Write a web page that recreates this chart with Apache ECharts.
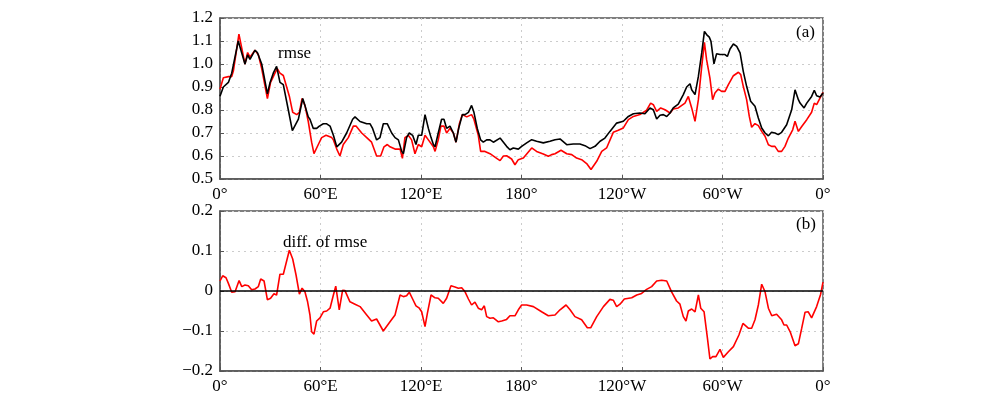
<!DOCTYPE html>
<html><head><meta charset="utf-8">
<script src="https://cdn.jsdelivr.net/npm/echarts@6/dist/echarts.min.js"></script>
<style>html,body{margin:0;padding:0;background:#fff}#c{width:1000px;height:397px}</style>
</head><body><div id="c"></div>
<script>
// Panel (a): black rmse line (longitude east 0-360, value)
const blackLon = [0,2,5,7,10.9,14.9,16.5,17.9,20.9,22.3,24.9,28.3,29.9,31.8,33.8,35.8,37.8,40.8,43.2,46.8,49.4,50.7,52.7,53.7,55.7,57.7,59.3,61.7,63.7,65.7,67.7,69.7,72.6,75.6,79.2,80.6,83.6,87.6,89.6,91.1,93.5,95.5,97.5,99.9,102.5,104.5,106.5,108.5,109.5,111.4,113.0,115.0,117.0,118.4,120.4,122.4,124.4,126.0,127.4,128.4,130.3,132.3,133.7,135.3,137.3,139.3,140.9,142.5,144.7,146.3,148.3,150.2,151.6,153.6,155.6,157.2,159.2,161.2,163.2,167.2,171.1,173.1,175.1,178.1,180.1,183.1,186.1,189.0,193.0,197.0,200.0,203.0,207.0,210.9,214.9,217.9,220.9,223.9,226.9,229.8,232.8,236.8,240.8,243.8,246.8,250.7,253.7,256.7,258.7,260.7,262.7,264.7,266.7,268.7,270.6,273.6,276.6,278.6,280.6,281.6,283.6,285.6,287.6,289.2,290.5,292.1,293.1,294.9,296.5,298.5,299.5,301.5,302.9,304.5,306.5,308.5,310.5,312.4,314.4,316.8,319.4,321.4,323.4,325.4,327.4,329.3,331.3,333.3,335.3,338.3,341.3,343.3,345.3,346.3,348.7,350.3,353.2,354.8,356.2,358.2,360];
const blackVal = [0.86,0.9,0.92,0.96,1.10,1.0,1.04,1.02,1.06,1.05,1.0,0.87,0.92,0.96,0.99,0.92,0.91,0.8,0.71,0.76,0.85,0.82,0.77,0.76,0.72,0.72,0.73,0.74,0.74,0.73,0.69,0.64,0.66,0.70,0.76,0.77,0.75,0.74,0.74,0.72,0.67,0.68,0.74,0.74,0.70,0.68,0.67,0.62,0.61,0.68,0.70,0.69,0.65,0.69,0.69,0.78,0.72,0.68,0.65,0.64,0.70,0.76,0.76,0.72,0.73,0.70,0.66,0.72,0.78,0.78,0.79,0.82,0.79,0.72,0.67,0.66,0.67,0.67,0.66,0.678,0.642,0.627,0.635,0.63,0.642,0.657,0.671,0.664,0.657,0.664,0.671,0.674,0.649,0.652,0.652,0.645,0.632,0.642,0.664,0.678,0.707,0.743,0.751,0.772,0.784,0.787,0.784,0.809,0.801,0.761,0.777,0.78,0.772,0.787,0.809,0.826,0.867,0.90,0.914,0.888,0.867,0.946,1.048,1.142,1.128,1.117,1.099,1.001,1.045,1.041,1.036,1.041,1.033,1.065,1.087,1.077,1.048,0.968,0.903,0.838,0.816,0.765,0.722,0.70,0.688,0.703,0.70,0.693,0.703,0.736,0.801,0.888,0.845,0.83,0.809,0.83,0.859,0.886,0.862,0.857,0.874];
// Panel (a): red rmse line
const redLon = [0,2,5,7,8,11.3,14.9,16.5,17.9,20.9,22.9,24.9,28.3,30.2,32.8,34.2,35.8,37.8,39.8,41.4,43.4,45.8,47.4,49.0,50.7,52.7,54.7,56.1,58.7,60.7,63.3,66.7,67.7,69.7,71.6,73.6,76.6,79.6,81.2,84.6,87.6,90.5,93.5,95.9,97.9,99.9,101.5,104.5,107.5,108.9,110.4,112.4,114.4,116.4,118.4,120.4,122.4,124.4,127.4,128.4,130.3,131.9,133.7,135.3,137.3,139.3,140.9,142.9,144.7,147.3,150.2,151.6,154.2,155.6,158.2,161.2,165.2,167.2,169.2,171.1,174.1,176.1,178.1,181.1,186.1,189.0,193.0,196.0,198.0,200.0,203.6,207.0,210.0,212.9,215.9,218.9,221.5,224.9,227.9,230.8,234.8,237.8,240.8,243.8,246.8,250.7,254.7,257.1,258.7,260.7,263.1,265.7,268.7,270.6,273.6,277.6,279.6,281.6,283.6,285.6,287.6,289.2,290.5,292.5,294.1,295.5,297.5,299.5,301.5,303.5,306.5,309.5,310.9,312.4,314.4,316.0,317.4,319.4,321.4,323.4,325.4,327.4,329.3,331.3,333.3,335.3,337.3,339.3,341.9,343.3,345.3,347.3,350.3,353.2,354.8,356.2,358.2,360];
const redVal = [0.89,0.94,0.945,0.945,0.97,1.13,1.0,1.05,1.03,1.06,1.04,0.98,0.85,0.92,0.96,0.98,0.96,0.95,0.9,0.86,0.79,0.78,0.79,0.85,0.82,0.75,0.66,0.61,0.65,0.68,0.69,0.68,0.67,0.63,0.60,0.65,0.68,0.73,0.73,0.70,0.68,0.66,0.60,0.60,0.64,0.65,0.64,0.63,0.63,0.59,0.68,0.69,0.67,0.61,0.65,0.64,0.69,0.67,0.64,0.62,0.67,0.73,0.73,0.70,0.72,0.70,0.66,0.74,0.78,0.77,0.78,0.76,0.69,0.62,0.62,0.61,0.59,0.58,0.60,0.601,0.587,0.562,0.584,0.591,0.635,0.62,0.609,0.599,0.606,0.61,0.625,0.61,0.606,0.591,0.584,0.567,0.541,0.577,0.62,0.635,0.703,0.712,0.722,0.758,0.772,0.78,0.799,0.83,0.823,0.794,0.809,0.801,0.787,0.804,0.809,0.83,0.859,0.809,0.751,0.845,0.99,1.094,1.019,0.939,0.845,0.874,0.891,0.881,0.881,0.91,0.949,0.964,0.954,0.903,0.845,0.772,0.725,0.741,0.732,0.707,0.686,0.649,0.642,0.642,0.62,0.62,0.642,0.678,0.714,0.751,0.707,0.728,0.758,0.79,0.83,0.823,0.852,0.877];
// Panel (b): difference of rmse
const diffLon = [0,1.6,3.6,5.0,7.0,8.0,9.0,11.4,13.0,14.9,16.9,18.9,20.9,22.9,24.3,26.3,28.3,30.2,32.2,33.8,35.8,37.8,41.4,43.4,45.4,47.4,49.0,50.7,52.3,53.7,54.7,56.1,57.7,59.7,61.7,63.7,65.7,67.7,69.1,71.2,73.2,74.6,77.6,80.6,83.6,87.6,90.5,93.5,97.5,101.5,104.5,107.5,109.5,111.4,113.0,115.0,117.0,119.0,120.4,122.4,123.8,126.0,128.4,130.3,133.3,135.3,137.9,140.3,142.3,144.3,146.3,148.3,150.2,152.2,154.2,156.2,157.8,159.2,161.2,163.2,166.2,168.2,171.1,173.1,167.2,169.2,171.1,173.1,176.1,178.1,180.1,183.1,187.1,192.0,196.0,200.0,203.0,206.6,209.0,211.9,215.9,219.3,221.3,224.9,228.9,232.8,234.8,236.8,238.8,241.4,245.8,248.8,251.7,254.7,257.7,260.7,263.7,266.7,269.6,272.6,274.6,276.6,278.2,279.6,281.6,283.6,285.6,287.0,289.0,291.0,292.5,294.1,296.1,298.5,300.5,303.5,306.5,309.8,312.2,315.4,317.4,319.4,321.4,323.4,325.4,327.4,329.4,332.3,335.3,336.7,338.3,340.4,343.3,345.3,347.3,349.3,351.2,353.2,356.2,358.6,360];
const diffVal = [0.025,0.038,0.033,0.019,-0.003,-0.007,-0.002,0.026,0.011,0.015,0.013,0.003,0.005,0.011,0.03,0.025,-0.022,-0.018,-0.007,-0.01,0.042,0.042,0.102,0.08,0.04,-0.008,0.007,-0.002,-0.027,-0.06,-0.102,-0.108,-0.075,-0.067,-0.052,-0.05,-0.043,-0.01,0.012,-0.047,0.002,0.001,-0.027,-0.033,-0.039,-0.06,-0.075,-0.07,-0.1,-0.077,-0.06,-0.01,-0.014,-0.012,-0.003,-0.02,-0.037,-0.043,-0.052,-0.089,-0.056,-0.01,-0.017,-0.018,-0.031,-0.018,0.013,0.01,0.007,0.008,-0.002,-0.02,-0.035,-0.028,-0.043,-0.047,-0.037,-0.064,-0.068,-0.067,-0.077,-0.075,-0.071,-0.062,-0.077,-0.072,-0.072,-0.06,-0.062,-0.047,-0.035,-0.035,-0.039,-0.052,-0.062,-0.06,-0.047,-0.035,-0.047,-0.064,-0.072,-0.092,-0.092,-0.064,-0.039,-0.021,-0.023,-0.039,-0.033,-0.02,-0.017,-0.01,-0.006,0.004,0.011,0.025,0.027,0.025,-0.002,-0.025,-0.033,-0.064,-0.075,-0.05,-0.045,-0.052,-0.01,-0.043,-0.052,-0.118,-0.17,-0.164,-0.164,-0.146,-0.166,-0.152,-0.139,-0.11,-0.081,-0.093,-0.093,-0.072,-0.035,0.017,-0.002,-0.043,-0.062,-0.058,-0.072,-0.085,-0.085,-0.102,-0.137,-0.132,-0.093,-0.053,-0.052,-0.067,-0.039,-0.008,0.022];
const xTicks = {0:'0°',60:'60°E',120:'120°E',180:'180°',240:'120°W',300:'60°W',360:'0°'};
const yTicksB = {'0.2':'0.2','0.1':'0.1','0':'0','-0.1':'−0.1','-0.2':'−0.2'};

// The diff series was read in two overlapping segments; drop the overlap by keeping monotonic longitudes
function pairs(lon, val){
  const out=[]; let last=-1;
  for(let i=0;i<lon.length;i++){ if(lon[i]>last){ out.push([lon[i],val[i]]); last=lon[i]; } }
  return out;
}

const font = 'Liberation Serif';
const txt = {fontFamily:font,fontSize:17,color:'#000'};
function xAxis(gi){
  return {type:'value',gridIndex:gi,min:0,max:360,interval:60,
    axisLine:{show:true,onZero:false,lineStyle:{color:'#555',width:1.5}},
    axisTick:{show:true,inside:true,length:4,lineStyle:{color:'#555'}},
    axisLabel:Object.assign({margin:7,formatter:v=>xTicks[v]},txt),
    splitLine:{show:true,lineStyle:{color:'#ccc',type:[2,4],width:1}}};
}
const option = {
  animation:false,
  backgroundColor:'#fff',
  grid:[
    {left:220,right:177,top:18,height:161,show:true,borderColor:'#555',borderWidth:1.5},
    {left:220,right:177,top:211,height:160,show:true,borderColor:'#555',borderWidth:1.5}
  ],
  xAxis:[xAxis(0),xAxis(1)],
  yAxis:[
    {type:'value',gridIndex:0,min:0.5,max:1.2,interval:0.1,
     axisLine:{show:true,lineStyle:{color:'#555',width:1.5}},
     axisTick:{show:true,inside:true,length:4,lineStyle:{color:'#555'}},
     axisLabel:Object.assign({margin:7,formatter:v=>v.toFixed(1)},txt),
     splitLine:{show:true,lineStyle:{color:'#ccc',type:[2,4],width:1}}},
    {type:'value',gridIndex:1,min:-0.2,max:0.2,interval:0.1,
     axisLine:{show:true,lineStyle:{color:'#555',width:1.5}},
     axisTick:{show:true,inside:true,length:4,lineStyle:{color:'#555'}},
     axisLabel:Object.assign({margin:7,formatter:v=>yTicksB[String(Math.round(v*10)/10)]||''},txt),
     splitLine:{show:true,lineStyle:{color:'#ccc',type:[2,4],width:1}}}
  ],
  series:[
    {type:'line',xAxisIndex:0,yAxisIndex:0,data:pairs(redLon,redVal),showSymbol:false,lineStyle:{color:'#ff0000',width:1.6}},
    {type:'line',xAxisIndex:0,yAxisIndex:0,data:pairs(blackLon,blackVal),showSymbol:false,lineStyle:{color:'#000',width:1.6}},
    {type:'line',xAxisIndex:1,yAxisIndex:1,data:pairs(diffLon,diffVal),showSymbol:false,lineStyle:{color:'#ff0000',width:1.6},
     markLine:{silent:true,symbol:'none',label:{show:false},lineStyle:{color:'#000',width:1.5,type:'solid'},data:[{yAxis:0}]}}
  ],
  graphic:[
    {type:'text',left:278,top:45,style:Object.assign({text:'rmse',fill:'#000'},{font:'17px "Liberation Serif"'})},
    {type:'text',left:796,top:24,style:{text:'(a)',fill:'#000',font:'17px "Liberation Serif"'}},
    {type:'text',left:283,top:234,style:{text:'diff. of rmse',fill:'#000',font:'17px "Liberation Serif"'}},
    {type:'text',left:796,top:216,style:{text:'(b)',fill:'#000',font:'17px "Liberation Serif"'}}
  ]
};
const chart = echarts.init(document.getElementById('c'),null,{renderer:'canvas'});
chart.setOption(option);
</script></body></html>
